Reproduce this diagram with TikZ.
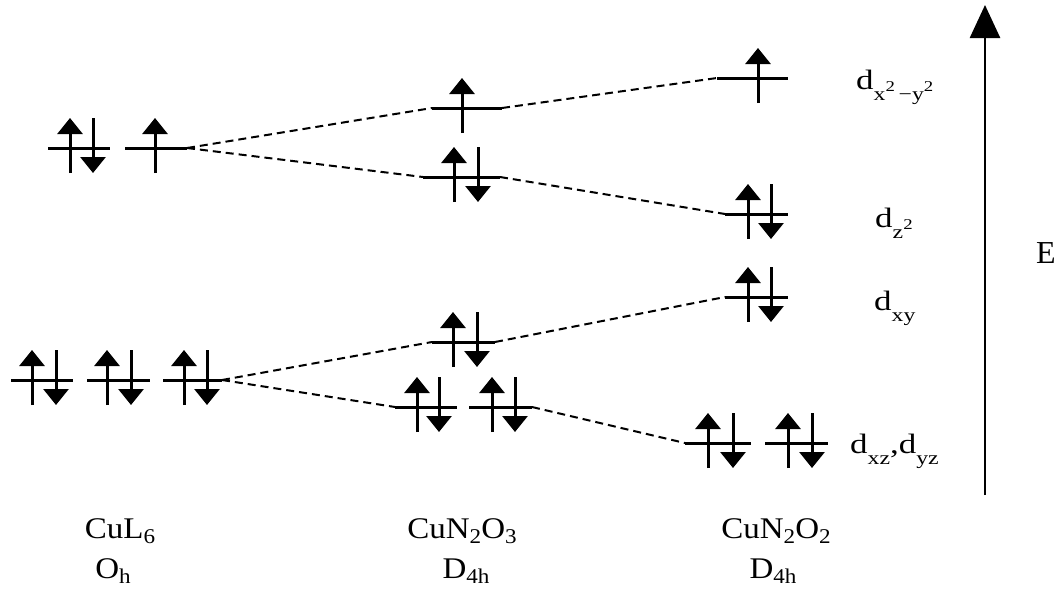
\documentclass[tikz,border=0pt]{standalone}
\usepackage{fontspec}
\usepackage{graphicx}
\setmainfont{Liberation Serif}
\usetikzlibrary{arrows.meta}
\tikzset{
 lvl/.style={line width=3pt},
 spin/.style={line width=3pt,-{Triangle[width=25pt,length=16pt]}},
 conn/.style={line width=2pt,dash pattern=on 8pt off 5pt},
 axisarrow/.style={line width=2.6pt,-{Triangle[width=30pt,length=33pt]}},
 lab/.style={inner sep=0pt,anchor=base west,font=\fontsize{28}{32}\selectfont},
 clab/.style={inner sep=0pt,anchor=base,font=\fontsize{30}{34}\selectfont},
}
\newcommand\Lev[4]{\coordinate (#1L) at (#2,#4); \coordinate (#1R) at (#3,#4); \draw[lvl] (#1L) -- (#1R);}
\newcommand\Up[2]{\draw[spin] ({#1},{#2+25}) -- ({#1},{#2-30});}
\newcommand\Dn[2]{\draw[spin] ({#1},{#2-30}) -- ({#1},{#2+25});}
\newcommand\sbd[1]{\raisebox{-0.18em}{\fontsize{21}{21}\selectfont #1}}
\newcommand\sbx[1]{\raisebox{-11pt}{\fontsize{19}{19}\selectfont #1}}
\newcommand\spx[1]{\raisebox{9pt}{\fontsize{15}{15}\selectfont #1}}
\begin{document}
\begin{tikzpicture}[x=1pt,y=-1pt]
\useasboundingbox (0,0) rectangle (1058,590);
% CuL6 upper
\Lev{A1}{48}{110}{148} \Up{70}{148} \Dn{93}{148}
\Lev{A2}{125}{187}{148} \Up{155}{148}
% CuN2O3 upper
\Lev{B1}{432}{502}{108} \Up{462}{108}
\Lev{B2}{423}{500}{177} \Up{454}{177} \Dn{478}{177}
% CuN2O2 upper
\Lev{C1}{717}{788}{78} \Up{758}{78}
\Lev{C2}{725}{788}{214} \Up{748}{214} \Dn{771}{214}
% CuL6 lower
\Lev{A3}{11}{73}{380} \Up{32}{380} \Dn{56}{380}
\Lev{A4}{87}{150}{380} \Up{107}{380} \Dn{131}{380}
\Lev{A5}{163}{222}{380} \Up{184}{380} \Dn{207}{380}
% CuN2O3 lower
\Lev{B3}{432}{495}{342} \Up{453}{342} \Dn{477}{342}
\Lev{B4}{395}{457}{407} \Up{417}{407} \Dn{439}{407}
\Lev{B5}{469}{532}{407} \Up{492}{407} \Dn{515}{407}
% CuN2O2 lower
\Lev{C3}{725}{788}{297} \Up{748}{297} \Dn{771}{297}
\Lev{C4}{685}{751}{443} \Up{708}{443} \Dn{733}{443}
\Lev{C5}{765}{828}{443} \Up{788}{443} \Dn{812}{443}
% connectors
\draw[conn] (A2R) -- (B1L);
\draw[conn] (A2R) -- (B2L);
\draw[conn] (B1R) -- (C1L);
\draw[conn] (B2R) -- (C2L);
\draw[conn] (A5R) -- (B3L);
\draw[conn] (A5R) -- (B4L);
\draw[conn] (B3R) -- (C3L);
\draw[conn] (B5R) -- (C4L);
% energy axis
\coordinate (E0) at (985,495);
\coordinate (E1) at (985,5);
\draw[axisarrow] (E0) -- (E1);
\node[inner sep=0pt,font=\fontsize{32}{36}\selectfont] (Elab) at (1046,253) {E};
% orbital labels
\node[lab] (l1) at (856,89) {\scalebox{1.25}[1]{d\sbx{x\spx{2}\hspace{3pt}−y\spx{2}}}};
\node[lab] (l2) at (875,227) {\scalebox{1.25}[1]{d\sbx{z\spx{2}}}};
\node[lab] (l3) at (874,310) {\scalebox{1.25}[1]{d\sbx{xy}}};
\node[lab] (l4) at (850,453) {\scalebox{1.25}[1]{d\sbx{xz},d\sbx{yz}}};
% complex labels
\node[clab] (t1) at (120,538) {\scalebox{1.1}[1]{CuL\sbd{6}}};
\node[clab] (t2) at (462,538) {\scalebox{1.1}[1]{CuN\sbd{2}O\sbd{3}}};
\node[clab] (t3) at (776,538) {\scalebox{1.1}[1]{CuN\sbd{2}O\sbd{2}}};
\node[clab] (s1) at (113,578) {\scalebox{1.1}[1]{O\sbd{h}}};
\node[clab] (s2) at (466,578) {\scalebox{1.1}[1]{D\sbd{4h}}};
\node[clab] (s3) at (773,578) {\scalebox{1.1}[1]{D\sbd{4h}}};
\end{tikzpicture}
\end{document}
